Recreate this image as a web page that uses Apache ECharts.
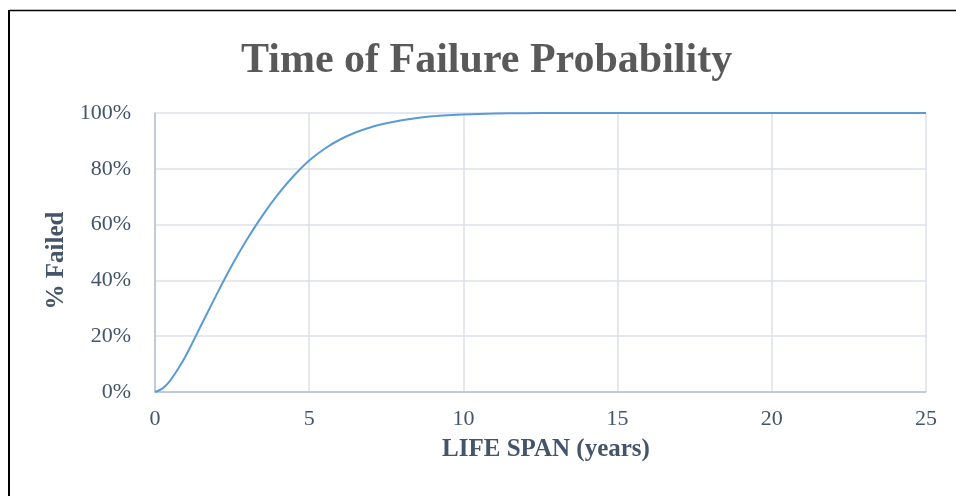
<!DOCTYPE html>
<html>
<head>
<meta charset="utf-8">
<script src="https://cdn.jsdelivr.net/npm/echarts@6/dist/echarts.min.js"></script>
<style>
  html, body { margin: 0; padding: 0; background: #fff; }
  #chart { width: 956px; height: 496px; }
</style>
</head>
<body>
<div id="chart"></div>
<script>
  // values
  var years = [0, 0.25, 0.5, 0.75, 1, 1.5, 2, 2.5, 3, 3.5, 4, 4.5, 5, 5.5, 6, 6.5, 7, 7.5, 8, 8.5, 9, 9.5, 10, 11, 12, 13, 25]
  var failed = [0, 1.3, 4.2, 8.3, 13, 24, 35, 45.5, 55, 63.5, 71, 77.5, 83, 87.2, 90.5, 93, 94.9, 96.3, 97.4, 98.2, 98.8, 99.2, 99.5, 99.8, 99.93, 100, 100]

  var serif = '"Liberation Serif", "Times New Roman", serif'
  var labelColor = '#44546a'

  var points = years.map(function (x, i) { return [x, failed[i]] })

  var chart = echarts.init(document.getElementById('chart'))
  chart.setOption({
    animation: false,
    title: {
      text: 'Time of Failure Probability',
      left: 236,
      top: 35,
      textStyle: {
        fontFamily: serif,
        fontSize: 42,
        fontWeight: 'bold',
        color: '#595959'
      }
    },
    grid: {
      left: 155,
      right: 30,
      top: 113,
      bottom: 104
    },
    xAxis: {
      type: 'value',
      min: 0,
      max: 25,
      interval: 5,
      name: 'LIFE SPAN (years)',
      nameLocation: 'middle',
      nameGap: 45,
      nameTextStyle: {
        fontFamily: serif,
        fontSize: 25,
        fontWeight: 'bold',
        color: labelColor,
        padding: [0, 0, 0, 11]
      },
      axisLine: { show: true, lineStyle: { color: '#b4c0d2', width: 1.5 } },
      axisTick: { show: false },
      axisLabel: {
        fontFamily: serif,
        fontSize: 22,
        color: labelColor,
        margin: 16
      },
      splitLine: { show: true, lineStyle: { color: '#dde2ea', width: 1.5 } }
    },
    yAxis: {
      type: 'value',
      min: 0,
      max: 100,
      interval: 20,
      name: '% Failed',
      nameLocation: 'middle',
      nameRotate: 90,
      nameGap: 85,
      nameTextStyle: {
        fontFamily: serif,
        fontSize: 25,
        fontWeight: 'bold',
        color: labelColor,
        padding: [0, 16, 0, 0]
      },
      axisLine: { show: true, lineStyle: { color: '#b4c0d2', width: 1.5 } },
      axisTick: { show: false },
      axisLabel: {
        fontFamily: serif,
        fontSize: 22,
        color: labelColor,
        margin: 24,
        formatter: '{value}%'
      },
      splitLine: { show: true, lineStyle: { color: '#dde2ea', width: 1.5 } }
    },
    graphic: [
      { type: 'line', shape: { x1: 9, y1: 10.5, x2: 956, y2: 10.5 }, style: { stroke: '#000', lineWidth: 1.5 } },
      { type: 'line', shape: { x1: 9, y1: 10, x2: 9, y2: 496 }, style: { stroke: '#000', lineWidth: 2 } }
    ],
    series: [{
      name: '% Failed',
      type: 'line',
      data: points,
      smooth: 0.3,
      showSymbol: false,
      lineStyle: { color: '#5b9bd5', width: 2 }
    }]
  })
</script>
</body>
</html>
